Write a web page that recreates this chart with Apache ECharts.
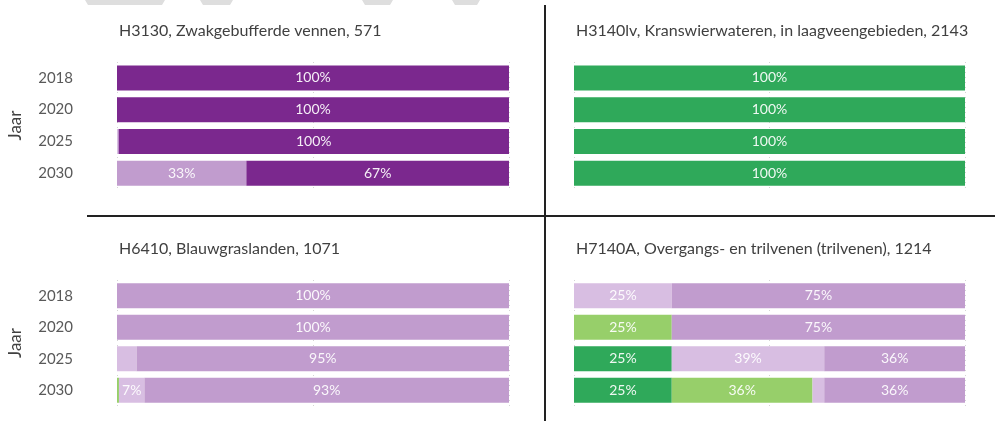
<!DOCTYPE html>
<html>
<head>
<meta charset="utf-8">
<script src="https://cdn.jsdelivr.net/npm/echarts@6/dist/echarts.min.js"></script>
<style>
  html, body { margin: 0; padding: 0; background: #fff; }
  #chart { width: 995px; height: 421px; }
</style>
</head>
<body>
<div id="chart"></div>
<script>
// years shown on every panel (top to bottom)
var years = ["2018", "2020", "2025", "2030"];

var titles = [
  "H3130, Zwakgebufferde vennen, 571",
  "H3140lv, Kranswierwateren, in laagveengebieden, 2143",
  "H6410, Blauwgraslanden, 1071",
  "H7140A, Overgangs- en trilvenen (trilvenen), 1214"
];

// class names, left to right in each bar
var classes = ["zeer goed", "goed", "matig", "slecht", "zeer slecht"];
var classColors = ["#2FA95A", "#97CF6A", "#D8BEE2", "#C19CCE", "#7B288E"];

// percentages per panel, one array per class (same order as classes)
var h3130 = [
  [0, 0, 0, 0],
  [0, 0, 0, 0],
  [0, 0, 0.4, 0],
  [0, 0, 0, 33],
  [100, 100, 99.6, 67]
];
var h3140lv = [
  [100, 100, 100, 100],
  [0, 0, 0, 0],
  [0, 0, 0, 0],
  [0, 0, 0, 0],
  [0, 0, 0, 0]
];
var h6410 = [
  [0, 0, 0, 0],
  [0, 0, 0, 0.5],
  [0, 0, 5, 6.5],
  [100, 100, 95, 93],
  [0, 0, 0, 0]
];
var h7140a = [
  [0, 0, 25, 25],
  [0, 25, 0, 36],
  [25, 0, 39, 3],
  [75, 75, 36, 36],
  [0, 0, 0, 0]
];

var panels = [h3130, h3140lv, h6410, h7140a];

var chart = echarts.init(document.getElementById("chart"));
var font = "Lato";

var grids = [
  { left: 117, top: 62, width: 392, height: 127 },
  { left: 574, top: 62, width: 391, height: 127 },
  { left: 117, top: 280, width: 392, height: 126 },
  { left: 574, top: 280, width: 391, height: 126 }
];

var titlePos = [
  { left: 114, top: 18 },
  { left: 571, top: 18 },
  { left: 114, top: 236 },
  { left: 571, top: 236 }
];

var xAxes = [], yAxes = [], series = [];
grids.forEach(function (g, i) {
  xAxes.push({
    gridIndex: i,
    type: "value",
    min: 0,
    max: 100,
    interval: 50,
    axisLabel: { show: false },
    axisLine: { show: false },
    axisTick: { show: false },
    splitLine: { lineStyle: { color: "#d4d4d4", type: [1, 4], width: 1 } }
  });
  var leftSide = i % 2 === 0;
  yAxes.push({
    gridIndex: i,
    type: "category",
    inverse: true,
    data: years,
    name: leftSide ? "Jaar" : "",
    nameLocation: "middle",
    nameRotate: 90,
    nameGap: 93,
    nameTextStyle: { fontFamily: font, fontSize: 17, color: "#404040" },
    axisLine: { show: false },
    axisTick: { show: false },
    axisLabel: {
      show: leftSide,
      margin: 44,
      fontFamily: font,
      fontSize: 15,
      color: "#595959"
    }
  });
  panels[i].forEach(function (vals, c) {
    series.push({
      name: classes[c],
      type: "bar",
      stack: "p" + i,
      xAxisIndex: i,
      yAxisIndex: i,
      barWidth: 25,
      data: vals,
      itemStyle: { color: classColors[c] },
      label: {
        show: true,
        position: "inside",
        fontFamily: font,
        fontSize: 14,
        color: "rgba(255,255,255,0.92)",
        formatter: function (p) {
          return p.value >= 6 ? Math.round(p.value) + "%" : "";
        }
      },
      emphasis: { disabled: true }
    });
  });
});

// faint trapezoids along the top edge and the panel dividers
var deco = [[85, 165], [200, 233], [362, 393], [452, 480]].map(function (s) {
  return {
    type: "polygon",
    shape: { points: [[s[0], 0], [s[1], 0], [s[1] - 3, 5], [s[0] + 3, 5]] },
    style: { fill: "#dedede" }
  };
});
deco.push({
  type: "line",
  shape: { x1: 545, y1: 5, x2: 545, y2: 421 },
  style: { stroke: "#222", lineWidth: 2 }
});
deco.push({
  type: "line",
  shape: { x1: 87, y1: 216, x2: 995, y2: 216 },
  style: { stroke: "#222", lineWidth: 2 }
});

chart.setOption({
  animation: false,
  backgroundColor: "#fff",
  title: titles.map(function (t, i) {
    return {
      text: t,
      left: titlePos[i].left,
      top: titlePos[i].top,
      textStyle: { fontFamily: font, fontSize: 16, fontWeight: "normal", color: "#404040" }
    };
  }),
  grid: grids,
  xAxis: xAxes,
  yAxis: yAxes,
  series: series,
  graphic: deco
});
</script>
</body>
</html>
